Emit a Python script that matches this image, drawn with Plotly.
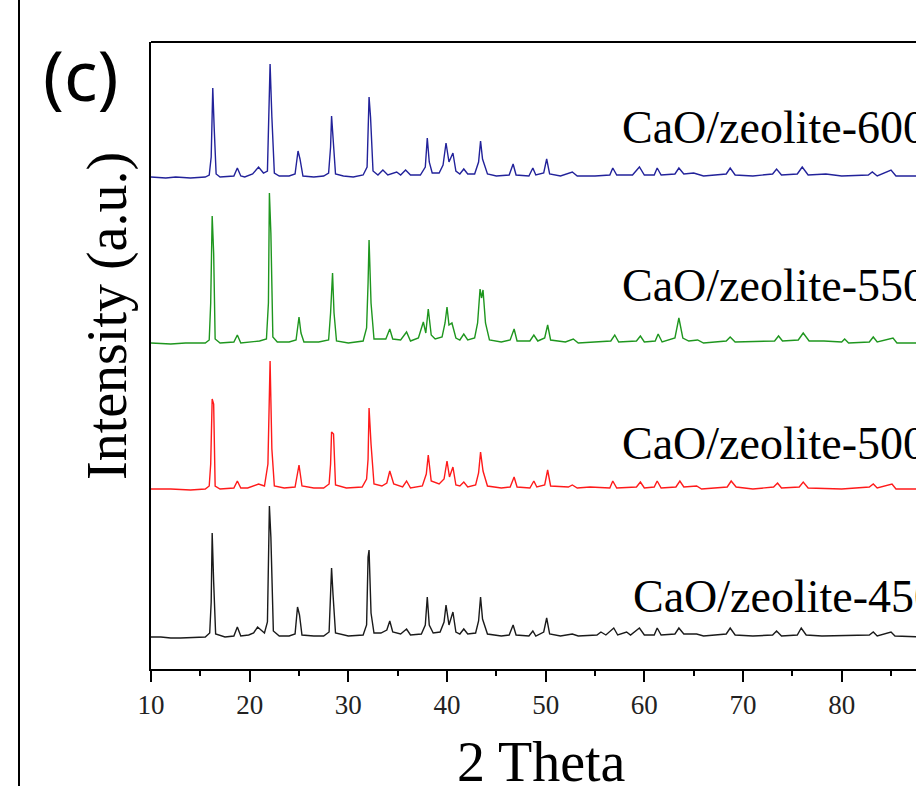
import plotly.graph_objects as go

# ---- data (2-theta, intensity above each pattern's own baseline) ----
blue_x = [10.0, 11.5, 12.5, 14.0, 15.5, 15.9, 16.1, 16.26, 16.4, 16.6, 17.0, 18.4, 18.75, 19.1, 19.5, 20.3, 20.9, 21.4,
          21.8, 22.07, 22.25, 22.5, 23.0, 24.0, 24.6, 24.9, 25.1, 25.4, 26.5, 27.5, 28.0, 28.2, 28.3, 28.45, 28.7, 29.5,
          30.5, 31.5, 31.9, 32.1, 32.25, 32.5, 33.0, 33.5, 34.0, 34.9, 35.3, 35.8, 36.3, 37.3, 37.8, 38.0, 38.2, 38.5,
          39.2, 39.6, 39.9, 40.2, 40.6, 40.9, 41.3, 41.7, 42.1, 42.8, 43.2, 43.4, 43.6, 44.1, 45.0, 46.3, 46.7, 47.0,
          48.3, 48.7, 49.0, 49.8, 50.1, 50.4, 51.5, 52.7, 53.2, 55.0, 56.5, 56.8, 57.2, 58.8, 59.5, 60.0, 61.0, 61.3,
          61.7, 63.1, 63.5, 64.0, 65.0, 66.0, 68.3, 68.7, 69.2, 71.0, 73.0, 73.4, 73.9, 75.5, 76.0, 76.6, 78.4, 80.0,
          82.7, 83.1, 83.6, 85.0, 85.5, 88.0]
blue_y = [0, -1, 0, -1, 0, 2, 20, 89, 50, 3, 0, 1, 9, 1, 0, 3, 10, 4,
          6, 113, 60, 4, 1, 1, 3, 26, 18, 1, 0, 1, 4, 30, 61, 40, 3, 1,
          0, 2, 10, 80, 60, 6, 2, 7, 2, 5, 2, 7, 2, 2, 10, 39, 15, 4,
          4, 12, 34, 15, 24, 6, 3, 8, 3, 3, 15, 36, 18, 3, 1, 2, 13, 2,
          1, 9, 2, 4, 18, 3, 1, 5, 1, 1, 2, 9, 2, 2, 10, 2, 2, 9,
          2, 3, 9, 3, 4, 1, 3, 9, 2, 1, 3, 8, 2, 3, 10, 2, 3, 1,
          2, 5, 1, 7, 1, 1]

green_x = [10.0, 12.0, 13.5, 15.5, 15.9, 16.05, 16.2, 16.35, 16.5, 17.0, 18.4, 18.75, 19.1, 20.5, 21.0, 21.7, 21.9, 22.0,
           22.15, 22.35, 22.8, 24.0, 24.7, 25.0, 25.2, 25.5, 27.0, 28.0, 28.2, 28.4, 28.55, 28.8, 30.0, 31.5, 31.85, 32.0,
           32.1, 32.3, 32.6, 33.3, 33.8, 34.2, 34.5, 35.3, 35.9, 36.3, 37.1, 37.6, 37.85, 38.1, 38.4, 38.8, 39.5, 39.8,
           40.0, 40.2, 40.5, 40.9, 41.3, 41.7, 42.1, 42.8, 43.1, 43.35, 43.5, 43.65, 43.9, 44.3, 45.5, 46.4, 46.8, 47.1,
           48.4, 48.8, 49.2, 49.9, 50.2, 50.5, 52.0, 52.8, 53.3, 56.6, 57.0, 57.4, 59.2, 59.6, 60.0, 61.1, 61.4, 61.8,
           63.1, 63.5, 63.9, 64.5, 65.4, 66.0, 68.3, 68.7, 69.2, 73.2, 73.6, 74.0, 75.6, 76.1, 76.7, 78.2, 80.0, 80.3,
           80.7, 82.8, 83.2, 83.6, 85.2, 85.6, 88.0]
green_y = [0, -1, 0, 0, 3, 40, 127, 90, 4, 0, 1, 8, 0, 1, 2, 4, 40, 150,
           110, 6, 1, 1, 3, 26, 10, 1, 1, 3, 30, 70, 30, 2, 0, 2, 15, 60,
           103, 40, 4, 4, 4, 14, 4, 3, 11, 2, 5, 21, 10, 34, 8, 4, 6, 20,
           36, 18, 20, 5, 3, 9, 3, 5, 20, 54, 45, 53, 20, 3, 1, 3, 14, 2,
           2, 8, 2, 5, 18, 3, 1, 4, 0, 2, 8, 1, 2, 7, 1, 2, 9, 1,
           5, 25, 5, 2, 3, 0, 2, 6, 1, 2, 7, 2, 3, 10, 2, 2, 1, 4,
           0, 1, 6, 1, 5, 0, 0]

red_x = [10.0, 12.0, 14.0, 15.5, 15.9, 16.05, 16.2, 16.35, 16.5, 17.0, 18.4, 18.75, 19.1, 19.8, 20.9, 21.5, 21.85, 22.07,
         22.25, 22.5, 23.5, 24.6, 25.0, 25.3, 26.5, 27.5, 28.05, 28.2, 28.3, 28.5, 28.7, 29.8, 31.4, 31.85, 32.0, 32.1,
         32.3, 32.6, 33.4, 33.9, 34.2, 34.6, 35.5, 35.9, 36.3, 37.5, 37.9, 38.1, 38.4, 39.2, 39.7, 40.0, 40.25, 40.6,
         40.9, 41.3, 41.7, 42.1, 42.9, 43.2, 43.4, 43.65, 44.1, 45.5, 46.4, 46.8, 47.1, 48.4, 48.8, 49.1, 49.9, 50.2,
         50.5, 52.3, 52.7, 53.2, 54.5, 56.5, 56.8, 57.2, 59.2, 59.6, 60.0, 61.0, 61.3, 61.7, 63.2, 63.6, 64.0, 65.3,
         65.8, 68.4, 68.8, 69.3, 71.0, 73.1, 73.5, 73.9, 75.7, 76.1, 76.6, 80.0, 82.8, 83.2, 83.6, 85.1, 85.5, 88.0]
red_y = [0, 0, -1, 0, 3, 25, 90, 85, 3, 0, 1, 8, 1, 1, 5, 3, 25, 128,
         40, 3, 1, 2, 24, 3, 1, 1, 5, 25, 57, 55, 4, 1, 2, 10, 30, 81,
         45, 5, 3, 6, 18, 5, 2, 8, 1, 3, 15, 34, 8, 5, 10, 28, 12, 22,
         4, 3, 7, 2, 4, 16, 37, 18, 3, 1, 2, 12, 2, 1, 8, 2, 4, 19,
         3, 2, 4, 1, 2, 1, 8, 1, 2, 7, 1, 2, 8, 1, 2, 8, 2, 3,
         0, 2, 8, 2, 0, 2, 6, 1, 2, 7, 1, 0, 2, 5, 1, 5, 0, 0]

black_x = [10.0, 11.0, 12.0, 13.0, 15.5, 15.95, 16.1, 16.2, 16.35, 16.55, 17.5, 18.4, 18.75, 19.1, 19.9, 20.4, 20.8, 21.2,
           21.5, 21.8, 22.0, 22.15, 22.4, 23.0, 24.0, 24.6, 24.85, 25.05, 25.3, 26.5, 27.5, 28.05, 28.15, 28.3, 28.45,
           28.7, 30.0, 31.5, 31.85, 32.0, 32.1, 32.3, 32.6, 33.3, 33.9, 34.2, 34.5, 35.3, 35.9, 36.3, 37.4, 37.8, 38.0,
           38.2, 38.6, 39.3, 39.7, 39.9, 40.2, 40.6, 40.9, 41.3, 41.7, 42.1, 42.9, 43.2, 43.4, 43.6, 44.1, 45.5, 46.3,
           46.7, 47.0, 48.3, 48.7, 49.0, 49.8, 50.1, 50.4, 51.5, 52.7, 53.3, 55.2, 55.6, 56.1, 56.9, 57.3, 58.2, 58.6,
           59.5, 60.0, 61.0, 61.3, 61.7, 63.1, 63.5, 64.0, 65.3, 66.0, 68.3, 68.7, 69.2, 71.0, 73.0, 73.4, 73.9, 75.5,
           75.9, 76.4, 78.0, 82.8, 83.2, 83.6, 85.0, 85.4, 88.0]
black_y = [0, 0, -1, -1, 0, 4, 35, 104, 55, 3, 0, 1, 10, 1, 2, 4, 10, 6,
           4, 15, 131, 100, 6, 1, 1, 3, 30, 22, 2, 1, 1, 5, 32, 69, 42,
           4, 1, 2, 12, 80, 87, 24, 4, 4, 7, 16, 5, 3, 8, 2, 3, 12, 40,
           12, 4, 5, 15, 32, 12, 25, 5, 3, 8, 3, 4, 16, 40, 18, 3, 1, 2,
           12, 2, 1, 6, 1, 5, 19, 3, 1, 3, 1, 2, 5, 2, 9, 2, 5, 2,
           9, 2, 2, 9, 2, 3, 9, 3, 3, 1, 3, 9, 2, 1, 2, 6, 1, 2,
           9, 2, 1, 2, 5, 1, 5, 1, 0]

series_names = ["CaO/zeolite-450", "CaO/zeolite-500", "CaO/zeolite-550", "CaO/zeolite-600"]
series_offsets = [32, 180, 326, 492]
label_y = [73, 226, 384, 542]
label_x = [58.65, 57.57, 57.57, 57.57]
tick_vals = [10, 20, 30, 40, 50, 60, 70, 80]

xs = [black_x, red_x, green_x, blue_x]
ys = [black_y, red_y, green_y, blue_y]
colors = ["#1a1a1a", "#ff1a1a", "#1e961e", "#22229a"]

W, H = 916, 786
ML, MT, MB = 151, 42, 117
PW, PH = W - ML, H - MT - MB

def px(X):
    return (X - ML) / PW

def py(Y):
    return (H - MB - Y) / PH

fig = go.Figure()
for x, y, off, c, n in zip(xs, ys, series_offsets, colors, series_names):
    fig.add_trace(go.Scatter(x=x, y=[v + off for v in y], mode="lines", name=n,
                             line=dict(color=c, width=1.4), showlegend=False))

serif = "Liberation Serif, Times New Roman, serif"
for n, lx, ly in zip(series_names, label_x, label_y):
    fig.add_annotation(x=lx, y=ly, xref="x", yref="y", text=n, showarrow=False,
                       xanchor="left", yanchor="middle", font=dict(family=serif, size=46, color="black"))

fig.add_annotation(x=px(107), y=py(316), xref="paper", yref="paper", text="Intensity (a.u.)",
                   textangle=-90, showarrow=False, xanchor="center", yanchor="middle",
                   font=dict(family=serif, size=56, color="black"))
fig.add_annotation(x=px(541), y=py(762), xref="paper", yref="paper", text="2 Theta",
                   showarrow=False, xanchor="center", yanchor="middle",
                   font=dict(family=serif, size=56, color="black"))
fig.add_annotation(x=px(81), y=py(74), xref="paper", yref="paper", text="(c)",
                   showarrow=False, xanchor="center", yanchor="middle",
                   font=dict(family="Noto Sans, sans-serif", size=70, color="black"))

# panel border at left and top frame line
fig.add_shape(type="line", xref="paper", yref="paper", x0=px(19), x1=px(19), y0=py(H + 5), y1=py(-5),
              line=dict(color="black", width=2))
fig.add_shape(type="line", xref="paper", yref="paper", x0=0, x1=1.01, y0=1, y1=1,
              line=dict(color="black", width=2))

fig.update_layout(
    width=W, height=H, margin=dict(l=ML, r=0, t=MT, b=MB),
    paper_bgcolor="white", plot_bgcolor="white",
    xaxis=dict(range=[10, 10 + PW / 9.867], showgrid=False, zeroline=False,
               showline=True, linecolor="black", linewidth=2,
               ticks="outside", ticklen=11, tickwidth=2, tickcolor="black",
               tickvals=tick_vals, ticktext=[str(v) for v in tick_vals],
               tickfont=dict(family=serif, size=27, color="#222222"),
               minor=dict(ticks="outside", ticklen=5, tickwidth=2, tickcolor="black", dtick=5, tick0=10)),
    yaxis=dict(range=[0, PH], showgrid=False, zeroline=False, showticklabels=False,
               showline=True, linecolor="black", linewidth=2, ticks=""),
)

fig.write_html("out.html")
